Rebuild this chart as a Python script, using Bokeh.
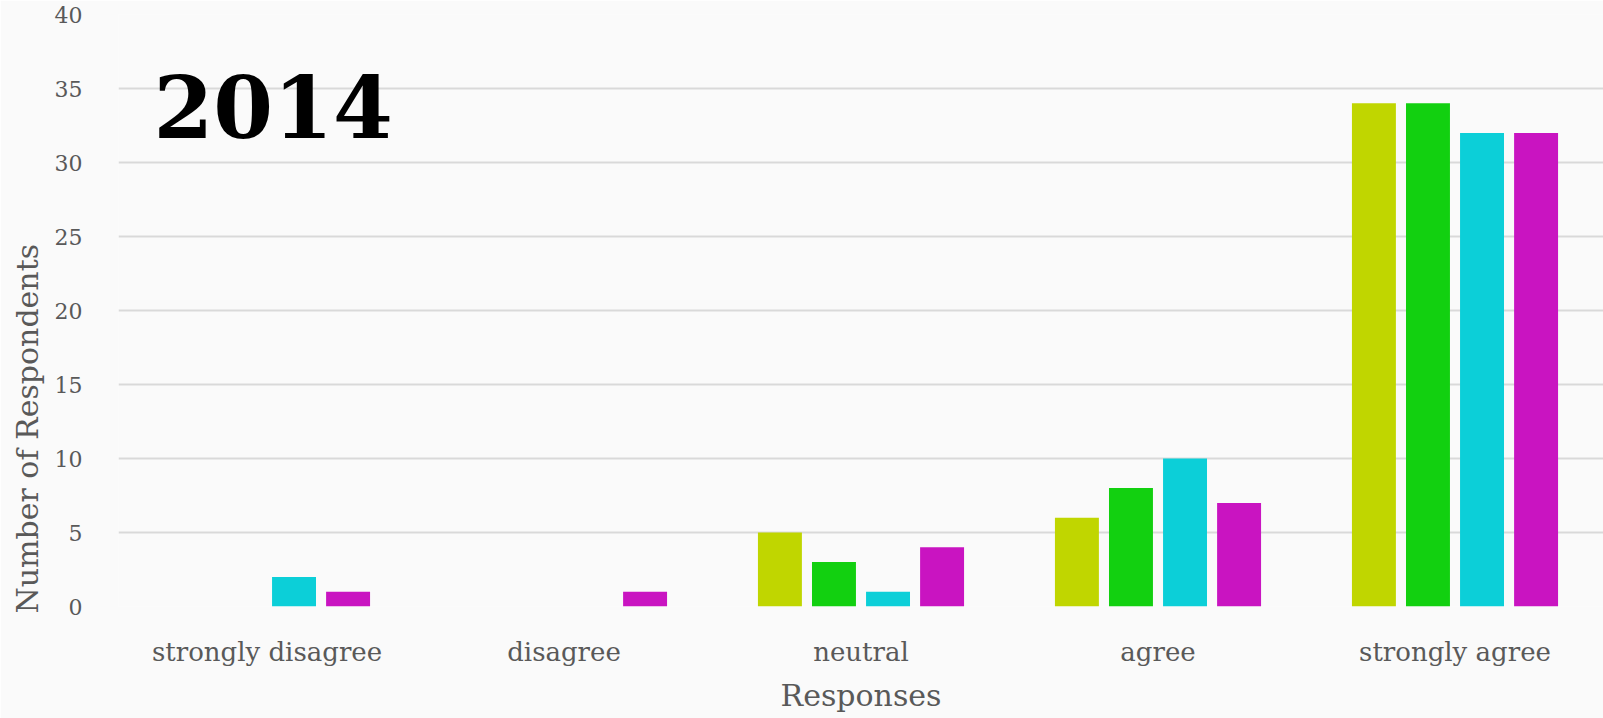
from bokeh.plotting import figure
from bokeh.models import Range1d, FactorRange, Label, Title
from bokeh.transform import dodge
from bokeh.embed import file_html
from bokeh.resources import INLINE

# Survey responses, 2014
categories = ["strongly disagree", "disagree", "neutral", "agree", "strongly agree"]
series_a = [0, 0, 5, 6, 34]
series_b = [0, 0, 3, 8, 34]
series_c = [2, 0, 1, 10, 32]
series_d = [1, 1, 4, 7, 32]
y_ticks = [0, 5, 10, 15, 20, 25, 30, 35, 40]

colors = ["#C0D600", "#12D010", "#0CCFD8", "#C914C1"]
offsets = [-0.273, -0.091, 0.091, 0.273]
bar_width = 0.148

FONT = "DejaVu Serif"
TEXT = "#595959"
BG = "#FAFAFA"

p = figure(
    width=1603, height=718,
    x_range=FactorRange(*categories, range_padding=0),
    y_range=Range1d(0, 40),
    output_backend="svg", toolbar_location=None,
    min_border_left=118, min_border_right=0,
    min_border_top=14, min_border_bottom=112,
)
p.background_fill_color = BG
p.border_fill_color = BG
p.outline_line_color = None

source = {"cat": categories, "a": series_a, "b": series_b, "c": series_c, "d": series_d}
for key, off, col in zip(["a", "b", "c", "d"], offsets, colors):
    p.vbar(x=dodge("cat", off, range=p.x_range), top=key, width=bar_width,
           source=source, fill_color=col, line_color=None)

# grid
p.xgrid.grid_line_color = None
p.ygrid.grid_line_color = "#D9D9D9"
p.ygrid.grid_line_width = 2
p.yaxis.ticker = y_ticks

for ax in (p.xaxis[0], p.yaxis[0]):
    ax.axis_line_color = None
    ax.major_tick_line_color = None
    ax.minor_tick_line_color = None
    ax.major_label_text_font = FONT
    ax.major_label_text_color = TEXT
    ax.axis_label_text_font = FONT
    ax.axis_label_text_color = TEXT
    ax.axis_label_text_font_style = "normal"

p.xaxis.major_label_text_font_size = "26px"
p.xaxis.major_label_standoff = 24
p.xaxis.axis_label = "Responses"
p.xaxis.axis_label_text_font_size = "30px"
p.xaxis.axis_label_standoff = 8

p.yaxis.major_label_text_font_size = "22px"
p.yaxis.major_label_standoff = 30

# vertical axis title, starting near the bottom of the frame
p.add_layout(Title(text="Number of Respondents", align="left", offset=-7,
                   standoff=13, text_font=FONT, text_font_size="30px",
                   text_font_style="normal", text_color=TEXT), "left")

p.add_layout(Label(x=35, y=469, x_units="screen", y_units="screen",
                   text="2014", text_font=FONT, text_font_style="bold",
                   text_font_size="86px", text_color="#000000"))

open("out.html", "w").write(file_html(p, INLINE))
